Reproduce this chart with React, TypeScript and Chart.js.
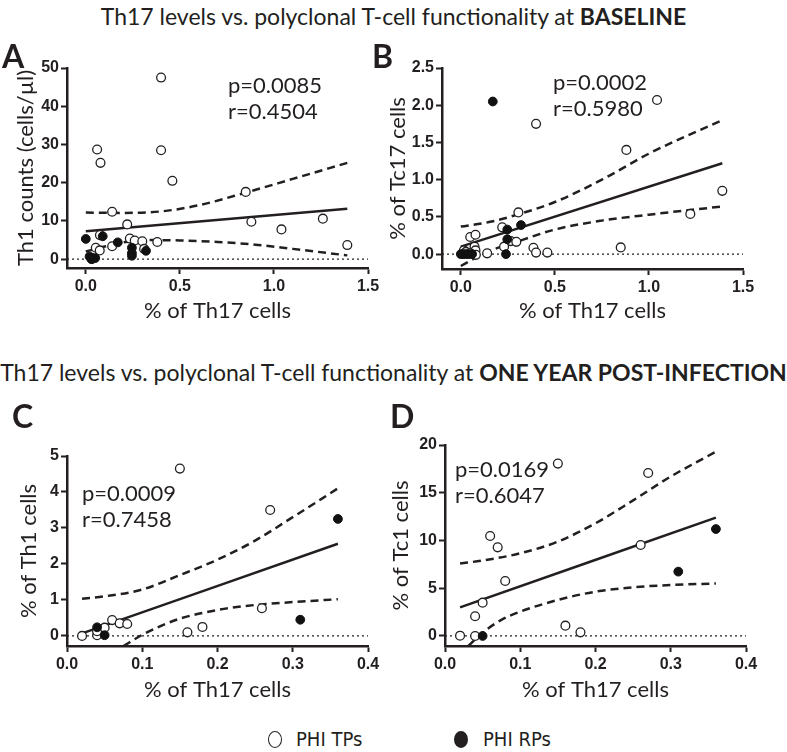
import React, { useEffect, useRef } from "react";
import { Chart, registerables } from "chart.js";
Chart.register(...registerables);

// ---------- Panel A: Th1 counts vs % Th17 (baseline) ----------
const aOpenX = [0.06, 0.078, 0.4, 0.4, 0.46, 0.85, 0.14, 0.22, 0.88, 1.04, 1.26, 1.39, 0.075, 0.234, 0.26, 0.3, 0.38, 0.14, 0.053, 0.074, 0.31, 0.03];
const aOpenY = [28.7, 25.2, 47.5, 28.5, 20.5, 17.6, 12.4, 9.1, 9.8, 7.8, 10.6, 3.7, 6.3, 5.4, 4.9, 4.7, 4.5, 3.4, 3.0, 2.3, 2.7, 0.3];
const aFillX = [0, 0.09, 0.17, 0.245, 0.245, 0.245, 0.32, 0.02, 0.035, 0.05, 0.03];
const aFillY = [5.3, 6.0, 4.4, 3.0, 1.6, 0.9, 2.2, 0.7, 0.1, 0.3, 0];
const aFitX = [0, 1.39];
const aFitY = [7.3, 13.2];
const aUpX = [0, 0.2, 0.4, 0.6, 0.85, 1.1, 1.39];
const aUpY = [12.2, 12.1, 12.5, 14.1, 17.4, 21.0, 25.2];
const aLoX = [0, 0.1, 0.2, 0.35, 0.5, 0.7, 0.9, 1.1, 1.39];
const aLoY = [2.0, 3.3, 4.4, 5.0, 4.9, 4.5, 3.8, 2.7, 1.0];
const aXTicks = [0, 0.5, 1.0, 1.5];
const aYTicks = [0, 10, 20, 30, 40, 50];

// ---------- Panel B: % Tc17 vs % Th17 (baseline) ----------
const bOpenX = [1.043, 0.4, 0.88, 1.39, 0.306, 1.22, 0.22, 0.05, 0.078, 0.265, 0.295, 0.23, 0.386, 0.85, 0.4, 0.46, 0.14, 0.073, 0.078, 0.016, 0.027, 0.05, 0.08];
const bOpenY = [2.07, 1.75, 1.4, 0.85, 0.56, 0.54, 0.36, 0.23, 0.26, 0.175, 0.165, 0.1, 0.085, 0.09, 0.02, 0.02, 0.01, 0.1, 0.05, 0.05, 0.03, 0.01, -0.01];
const bFillX = [0.17, 0.247, 0.32, 0.247, 0.24, 0, 0.012, 0.025, 0.04, 0.06];
const bFillY = [2.05, 0.33, 0.39, 0.2, 0, 0, 0, 0, 0, 0];
const bFitX = [0, 1.39];
const bFitY = [0.1, 1.22];
const bUpX = [0, 0.15, 0.3, 0.5, 0.75, 1.0, 1.39];
const bUpY = [0.37, 0.43, 0.53, 0.7, 1.0, 1.35, 1.8];
const bLoX = [0, 0.14, 0.28, 0.5, 0.75, 1.0, 1.39];
const bLoY = [-0.16, 0.03, 0.15, 0.33, 0.45, 0.53, 0.64];
const bXTicks = [0, 0.5, 1.0, 1.5];
const bYTicks = [0, 0.5, 1.0, 1.5, 2.0, 2.5];

// ---------- Panel C: % Th1 vs % Th17 (one year) ----------
const cOpenX = [0.15, 0.27, 0.259, 0.18, 0.16, 0.02, 0.04, 0.04, 0.05, 0.06, 0.07, 0.08];
const cOpenY = [4.65, 3.5, 0.77, 0.25, 0.1, 0, 0.02, 0.13, 0.23, 0.44, 0.35, 0.33];
const cFillX = [0.36, 0.31, 0.04, 0.05];
const cFillY = [3.25, 0.45, 0.24, 0.02];
const cFitX = [0.02, 0.36];
const cFitY = [0.07, 2.56];
const cUpX = [0.02, 0.05, 0.1, 0.15, 0.2, 0.25, 0.3, 0.36];
const cUpY = [1.03, 1.1, 1.29, 1.69, 2.12, 2.65, 3.3, 4.1];
const cLoX = [0.075, 0.1, 0.125, 0.15, 0.2, 0.25, 0.3, 0.36];
const cLoY = [-0.28, 0.03, 0.28, 0.48, 0.72, 0.86, 0.94, 1.02];
const cXTicks = [0, 0.1, 0.2, 0.3, 0.4];
const cYTicks = [0, 1, 2, 3, 4, 5];

// ---------- Panel D: % Tc1 vs % Th17 (one year) ----------
const dOpenX = [0.15, 0.27, 0.06, 0.07, 0.26, 0.08, 0.05, 0.04, 0.16, 0.18, 0.02, 0.04];
const dOpenY = [18.05, 17.07, 10.47, 9.28, 9.53, 5.76, 3.49, 2.06, 1.08, 0.38, 0.03, 0];
const dFillX = [0.36, 0.31, 0.05];
const dFillY = [11.2, 6.74, 0];
const dFitX = [0.02, 0.36];
const dFitY = [3.0, 12.4];
const dUpX = [0.02, 0.05, 0.1, 0.15, 0.2, 0.25, 0.3, 0.36];
const dUpY = [7.6, 7.9, 8.66, 9.88, 11.8, 14.2, 16.7, 19.3];
const dLoX = [0.031, 0.05, 0.075, 0.1, 0.15, 0.2, 0.25, 0.3, 0.36];
const dLoY = [-1.05, 0.35, 1.68, 2.55, 3.77, 4.64, 5.1, 5.34, 5.5];
const dXTicks = [0, 0.1, 0.2, 0.3, 0.4];
const dYTicks = [0, 5, 10, 15, 20];

const INK = "#231f20";
const SANS = "Lato, 'Open Sans', sans-serif";
const TICKFONT = "'Liberation Sans', Arial, sans-serif";
const AXIS_TITLE_SIZE = 22;

const zip = (xs: number[], ys: number[]) => xs.map((x, i) => ({ x, y: ys[i] }));

type Box = { x: number; y: number; w: number; h: number };
type Area = { L: number; T: number; R: number; B: number };

interface PanelProps {
  box: Box;
  area: Area;
  yTitleX: number;
  xTitleY: number;
  xMin: number;
  xMax: number;
  yMin: number;
  yMax: number;
  xTicks: number[];
  yTicks: number[];
  xDec: number;
  yDec: number;
  xTitle: string;
  yTitle: string;
  open: { x: number; y: number }[];
  filled: { x: number; y: number }[];
  fit: { x: number; y: number }[];
  up: { x: number; y: number }[];
  lo: { x: number; y: number }[];
}

function Panel(p: PanelProps) {
  const ref = useRef<HTMLCanvasElement>(null);
  useEffect(() => {
    const { box, area } = p;
    const halfLH = (AXIS_TITLE_SIZE * 1.2) / 2;
    const axisCommon = {
      grid: {
        display: true,
        drawOnChartArea: false,
        drawTicks: true,
        tickLength: 6,
        tickWidth: 2,
        tickColor: INK,
      },
      border: { display: true, width: 2.5, color: INK },
    };
    const lineDs = (data: any[], dashed: boolean) => ({
      data,
      showLine: true,
      pointRadius: 0,
      borderColor: INK,
      borderWidth: 2.5,
      borderDash: dashed ? [8, 5] : [],
      cubicInterpolationMode: "monotone" as const,
      fill: false,
    });
    const chart = new Chart(ref.current!, {
      type: "scatter",
      data: {
        datasets: [
          {
            data: p.filled,
            pointRadius: 4.4,
            pointBackgroundColor: "#111",
            pointBorderColor: "#111",
            pointBorderWidth: 1,
          },
          {
            data: p.open,
            pointRadius: 4.4,
            pointBackgroundColor: "#fff",
            pointBorderColor: INK,
            pointBorderWidth: 1.3,
          },
          lineDs(p.fit, false),
          lineDs(p.up, true),
          lineDs(p.lo, true),
          {
            data: [
              { x: p.xMin, y: 0 },
              { x: p.xMax, y: 0 },
            ],
            showLine: true,
            pointRadius: 0,
            borderColor: INK,
            borderWidth: 1.2,
            borderDash: [2, 3],
          },
        ],
      },
      options: {
        responsive: false,
        animation: false,
        events: [],
        layout: {
          padding: {
            left: 0,
            top: area.T - box.y,
            right: box.x + box.w - area.R,
            bottom: 0,
          },
        },
        plugins: { legend: { display: false }, tooltip: { enabled: false } },
        scales: {
          x: {
            type: "linear",
            min: p.xMin,
            max: p.xMax,
            ...axisCommon,
            afterBuildTicks: (s: any) => {
              s.ticks = p.xTicks.map((v) => ({ value: v }));
            },
            afterFit: (s: any) => {
              s.height = box.y + box.h - area.B;
            },
            ticks: {
              color: INK,
              padding: 3,
              maxRotation: 0,
              autoSkip: false,
              font: { family: TICKFONT, size: 16, weight: "bold" },
              callback: (v: any) => Number(v).toFixed(p.xDec),
            },
            title: {
              display: true,
              text: p.xTitle,
              color: INK,
              font: { family: SANS, size: AXIS_TITLE_SIZE },
              padding: { top: 0, bottom: box.y + box.h - p.xTitleY - halfLH },
            },
          },
          y: {
            type: "linear",
            min: p.yMin,
            max: p.yMax,
            ...axisCommon,
            afterBuildTicks: (s: any) => {
              s.ticks = p.yTicks.map((v) => ({ value: v }));
            },
            afterFit: (s: any) => {
              s.width = area.L - box.x;
            },
            ticks: {
              color: INK,
              padding: 2,
              autoSkip: false,
              font: { family: TICKFONT, size: 16, weight: "bold" },
              callback: (v: any) => Number(v).toFixed(p.yDec),
            },
            title: {
              display: true,
              text: p.yTitle,
              color: INK,
              font: { family: SANS, size: AXIS_TITLE_SIZE },
              padding: { top: p.yTitleX - box.x - halfLH, bottom: 0 },
            },
          },
        },
      } as any,
    });
    return () => chart.destroy();
  }, []);
  return (
    <canvas
      ref={ref}
      width={p.box.w}
      height={p.box.h}
      style={{ position: "absolute", left: p.box.x, top: p.box.y, width: p.box.w, height: p.box.h }}
    />
  );
}

const txt = (left: number, top: number, size: number, extra: any = {}) => ({
  position: "absolute" as const,
  left,
  top,
  fontFamily: SANS,
  fontSize: size,
  lineHeight: 1,
  color: INK,
  whiteSpace: "nowrap" as const,
  ...extra,
});

function Stats({ left, top, p, r }: { left: number; top: number; p: string; r: string }) {
  return (
    <div style={txt(left, top, 22, { lineHeight: "26px" })}>
      <div>{p}</div>
      <div>{r}</div>
    </div>
  );
}

export default function App() {
  return (
    <div style={{ position: "absolute", left: 0, top: 0, width: 787, height: 752, background: "#fff", overflow: "hidden" }}>
      <div style={txt(0, 5, 23, { width: 787, textAlign: "center" })}>
        Th17 levels vs. polyclonal T-cell functionality at <b>BASELINE</b>
      </div>
      <div style={txt(0, 361, 23, { width: 787, textAlign: "center" })}>
        Th17 levels vs. polyclonal T-cell functionality at <b>ONE YEAR POST-INFECTION</b>
      </div>

      <Panel
        box={{ x: 0, y: 40, w: 390, h: 290 }}
        area={{ L: 67, T: 68, R: 368, B: 268 }}
        yTitleX={26}
        xTitleY={311}
        xMin={-0.1}
        xMax={1.5}
        yMin={-2.3}
        yMax={50}
        xTicks={aXTicks}
        yTicks={aYTicks}
        xDec={1}
        yDec={0}
        xTitle="% of Th17 cells"
        yTitle="Th1 counts (cells/µl)"
        open={zip(aOpenX, aOpenY)}
        filled={zip(aFillX, aFillY)}
        fit={zip(aFitX, aFitY)}
        up={zip(aUpX, aUpY)}
        lo={zip(aLoX, aLoY)}
      />
      <Panel
        box={{ x: 390, y: 40, w: 397, h: 290 }}
        area={{ L: 442, T: 68, R: 743, B: 269 }}
        yTitleX={398}
        xTitleY={311}
        xMin={-0.1}
        xMax={1.5}
        yMin={-0.2}
        yMax={2.5}
        xTicks={bXTicks}
        yTicks={bYTicks}
        xDec={1}
        yDec={1}
        xTitle="% of Th17 cells"
        yTitle="% of Tc17 cells"
        open={zip(bOpenX, bOpenY)}
        filled={zip(bFillX, bFillY)}
        fit={zip(bFitX, bFitY)}
        up={zip(bUpX, bUpY)}
        lo={zip(bLoX, bLoY)}
      />
      <Panel
        box={{ x: 0, y: 430, w: 390, h: 280 }}
        area={{ L: 67, T: 456, R: 368, B: 646 }}
        yTitleX={29}
        xTitleY={690}
        xMin={0}
        xMax={0.4}
        yMin={-0.28}
        yMax={5}
        xTicks={cXTicks}
        yTicks={cYTicks}
        xDec={1}
        yDec={0}
        xTitle="% of Th17 cells"
        yTitle="% of Th1 cells"
        open={zip(cOpenX, cOpenY)}
        filled={zip(cFillX, cFillY)}
        fit={zip(cFitX, cFitY)}
        up={zip(cUpX, cUpY)}
        lo={zip(cLoX, cLoY)}
      />
      <Panel
        box={{ x: 390, y: 430, w: 397, h: 280 }}
        area={{ L: 445, T: 445, R: 746, B: 646 }}
        yTitleX={401}
        xTitleY={690}
        xMin={0}
        xMax={0.4}
        yMin={-1.05}
        yMax={20}
        xTicks={dXTicks}
        yTicks={dYTicks}
        xDec={1}
        yDec={0}
        xTitle="% of Th17 cells"
        yTitle="% of Tc1 cells"
        open={zip(dOpenX, dOpenY)}
        filled={zip(dFillX, dFillY)}
        fit={zip(dFitX, dFitY)}
        up={zip(dUpX, dUpY)}
        lo={zip(dLoX, dLoY)}
      />

      <div style={txt(2, 40, 32, { fontWeight: 700 })}>A</div>
      <div style={txt(372, 40, 32, { fontWeight: 700 })}>B</div>
      <div style={txt(12, 400, 32, { fontWeight: 700 })}>C</div>
      <div style={txt(390, 400, 32, { fontWeight: 700 })}>D</div>

      <Stats left={228} top={72} p="p=0.0085" r="r=0.4504" />
      <Stats left={553} top={69} p="p=0.0002" r="r=0.5980" />
      <Stats left={82} top={480} p="p=0.0009" r="r=0.7458" />
      <Stats left={455} top={456} p="p=0.0169" r="r=0.6047" />

      <div style={{ position: "absolute", left: 268, top: 731, width: 14, height: 17, border: `1.3px solid ${INK}`, borderRadius: "50%", boxSizing: "border-box" }} />
      <div style={txt(296, 729, 20, { fontFamily: "'Liberation Sans Narrow', 'DejaVu Sans Condensed', sans-serif" })}>PHI TPs</div>
      <div style={{ position: "absolute", left: 454, top: 731, width: 14, height: 17, background: INK, borderRadius: "50%" }} />
      <div style={txt(483, 729, 20, { fontFamily: "'Liberation Sans Narrow', 'DejaVu Sans Condensed', sans-serif" })}>PHI RPs</div>
    </div>
  );
}
